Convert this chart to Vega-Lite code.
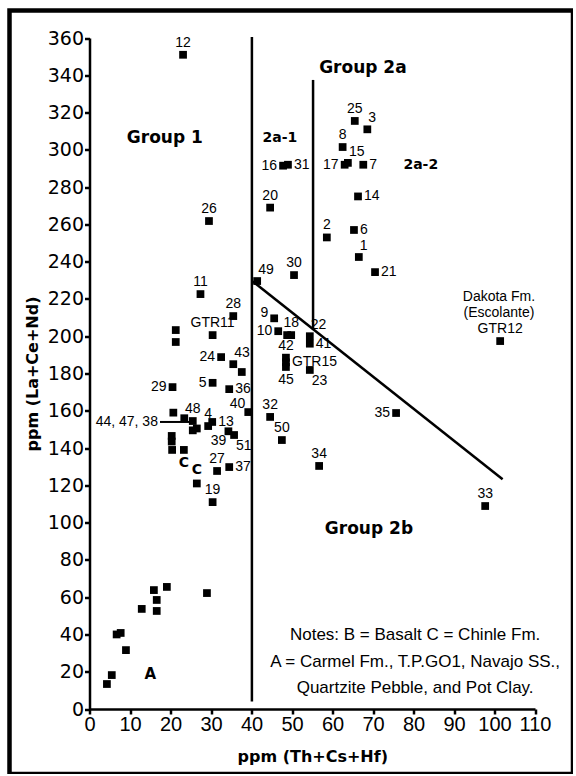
{
  "$schema": "https://vega.github.io/schema/vega-lite/v6.json",
  "width": 563.5,
  "height": 763.5,
  "autosize": {"type": "none"},
  "padding": {"left": 9.5, "top": 10.5, "right": 0, "bottom": 0},
  "background": "white",
  "config": {
    "view": {"stroke": "black", "strokeWidth": 4.5},
    "text": {"font": "Liberation Sans", "fontSize": 14, "color": "black"}
  },
  "datasets": {
    "points": [
      {"x": 23.1, "y": 351, "label": "12", "pos": "above"},
      {"x": 29.5, "y": 261.8, "label": "26", "pos": "above"},
      {"x": 44.6, "y": 269, "label": "20", "pos": "above"},
      {"x": 47.8, "y": 291.5, "label": "16", "pos": "left"},
      {"x": 49.0, "y": 292, "label": "31", "pos": "right"},
      {"x": 65.5, "y": 315.5, "label": "25", "pos": "above"},
      {"x": 68.6, "y": 311, "label": "3", "pos": "aboveright"},
      {"x": 62.5, "y": 301.5, "label": "8", "pos": "above"},
      {"x": 63.8, "y": 293, "label": "15", "pos": "aboveright"},
      {"x": 63.0, "y": 292, "label": "17", "pos": "left"},
      {"x": 67.6, "y": 292, "label": "7", "pos": "right"},
      {"x": 66.3, "y": 275, "label": "14", "pos": "right"},
      {"x": 58.6, "y": 253, "label": "2", "pos": "above"},
      {"x": 65.3, "y": 257, "label": "6", "pos": "right"},
      {"x": 66.5, "y": 242.5, "label": "1", "pos": "aboveright"},
      {"x": 70.5, "y": 234.4, "label": "21", "pos": "right"},
      {"x": 41.4, "y": 229.6, "label": "49", "pos": "aboveright"},
      {"x": 50.5, "y": 232.8, "label": "30", "pos": "above"},
      {"x": 101.4, "y": 197.4, "label": "GTR12", "pos": "above"},
      {"x": 45.6, "y": 209.6, "label": "9", "pos": "leftup"},
      {"x": 46.6, "y": 202.7, "label": "10", "pos": "left"},
      {"x": 48.8, "y": 200.6, "label": "", "pos": "none"},
      {"x": 49.8, "y": 200.6, "label": "18", "pos": "above"},
      {"x": 54.4, "y": 200, "label": "22", "pos": "aboveright"},
      {"x": 54.4, "y": 196, "label": "41", "pos": "right"},
      {"x": 48.5, "y": 188.5, "label": "42", "pos": "above"},
      {"x": 48.5, "y": 186, "label": "GTR15", "pos": "right"},
      {"x": 48.5, "y": 183.5, "label": "45", "pos": "below"},
      {"x": 54.4, "y": 181.9, "label": "23", "pos": "belowright"},
      {"x": 75.7, "y": 158.8, "label": "35", "pos": "left"},
      {"x": 44.6, "y": 156.7, "label": "32", "pos": "above"},
      {"x": 47.5, "y": 144.3, "label": "50", "pos": "above"},
      {"x": 56.7, "y": 130.4, "label": "34", "pos": "above"},
      {"x": 97.7, "y": 108.9, "label": "33", "pos": "above"},
      {"x": 27.4, "y": 222.6, "label": "11", "pos": "above"},
      {"x": 35.5, "y": 210.8, "label": "28", "pos": "above"},
      {"x": 30.4, "y": 200.6, "label": "GTR11", "pos": "above"},
      {"x": 21.3, "y": 203.3, "label": "", "pos": "none"},
      {"x": 21.3, "y": 196.9, "label": "", "pos": "none"},
      {"x": 32.5, "y": 188.8, "label": "24", "pos": "left"},
      {"x": 35.5, "y": 185, "label": "43", "pos": "aboveright"},
      {"x": 37.6, "y": 180.8, "label": "", "pos": "none"},
      {"x": 30.4, "y": 175, "label": "5", "pos": "left"},
      {"x": 34.5, "y": 171.6, "label": "36", "pos": "right"},
      {"x": 20.5, "y": 172.7, "label": "29", "pos": "left"},
      {"x": 39.2, "y": 159.3, "label": "40", "pos": "aboveleft"},
      {"x": 20.7, "y": 159, "label": "", "pos": "none"},
      {"x": 23.4, "y": 156, "label": "", "pos": "none"},
      {"x": 25.5, "y": 154.5, "label": "48", "pos": "above"},
      {"x": 25.5, "y": 149.5, "label": "", "pos": "none"},
      {"x": 26.5, "y": 150.5, "label": "", "pos": "none"},
      {"x": 29.3, "y": 151.8, "label": "4", "pos": "above"},
      {"x": 30.3, "y": 154, "label": "13", "pos": "right"},
      {"x": 34.3, "y": 149, "label": "39", "pos": "belowleft"},
      {"x": 35.7, "y": 147, "label": "51", "pos": "belowright"},
      {"x": 20.3, "y": 146.5, "label": "", "pos": "none"},
      {"x": 20.3, "y": 143.5, "label": "", "pos": "none"},
      {"x": 20.4, "y": 139, "label": "", "pos": "none"},
      {"x": 23.3, "y": 139, "label": "C", "pos": "Cbelow"},
      {"x": 26.5, "y": 121, "label": "C", "pos": "Cabove"},
      {"x": 31.5, "y": 127.7, "label": "27", "pos": "above"},
      {"x": 34.5, "y": 129.8, "label": "37", "pos": "right"},
      {"x": 30.4, "y": 111, "label": "19", "pos": "above"},
      {"x": 4.3, "y": 13.4, "label": "", "pos": "none"},
      {"x": 5.5, "y": 18.2, "label": "", "pos": "none"},
      {"x": 6.7, "y": 40, "label": "", "pos": "none"},
      {"x": 7.7, "y": 40.8, "label": "", "pos": "none"},
      {"x": 9.0, "y": 31.6, "label": "", "pos": "none"},
      {"x": 12.9, "y": 53.7, "label": "", "pos": "none"},
      {"x": 15.9, "y": 63.8, "label": "", "pos": "none"},
      {"x": 16.6, "y": 58.5, "label": "", "pos": "none"},
      {"x": 16.6, "y": 52.6, "label": "", "pos": "none"},
      {"x": 19.1, "y": 65.5, "label": "", "pos": "none"},
      {"x": 29.0, "y": 62.2, "label": "", "pos": "none"}
    ],
    "lines": [
      {"x": 40.1, "y": 4, "x2": 40.1, "y2": 360.5, "kind": "main"},
      {"x": 55.2, "y": 203.6, "x2": 55.2, "y2": 337.5, "kind": "main"},
      {"x": 40.3, "y": 229.4, "x2": 102, "y2": 123.3, "kind": "main"},
      {"x": 17.4, "y": 154, "x2": 24.8, "y2": 154, "kind": "leader"}
    ],
    "notes": [
      {"x": 18.6, "y": 306.3, "text": "Group 1", "kind": "group"},
      {"x": 67.5, "y": 343.9, "text": "Group 2a", "kind": "group"},
      {"x": 69.0, "y": 96.6, "text": "Group 2b", "kind": "group"},
      {"x": 47.0, "y": 306.3, "text": "2a-1", "kind": "sub"},
      {"x": 81.8, "y": 291.8, "text": "2a-2", "kind": "sub"},
      {"x": 80.4, "y": 39.7, "text": "Notes: B = Basalt  C = Chinle Fm.", "kind": "note"},
      {"x": 80.4, "y": 25.2, "text": "A = Carmel Fm., T.P.GO1, Navajo SS.,", "kind": "note"},
      {"x": 80.4, "y": 11.3, "text": "Quartzite Pebble, and Pot Clay.", "kind": "note"},
      {"x": 101.1, "y": 221, "text": "Dakota Fm.", "kind": "small"},
      {"x": 101.1, "y": 212.5, "text": "(Escolante)", "kind": "small"},
      {"x": 15, "y": 19, "text": "A", "kind": "letter"},
      {"x": 16.9, "y": 154, "text": "44, 47, 38", "kind": "leaderlabel"}
    ]
  },
  "encoding": {
    "x": {
      "field": "x", "type": "quantitative",
      "scale": {"domain": [0, 110], "range": [80, 525.5], "nice": false, "zero": false},
      "axis": {
        "orient": "bottom", "offset": -65,
        "values": [0, 10, 20, 30, 40, 50, 60, 70, 80, 90, 100, 110],
        "grid": false, "domainColor": "black", "domainWidth": 2.5,
        "tickColor": "black", "tickWidth": 2.5, "tickSize": 5,
        "labelFont": "Liberation Sans", "labelFontSize": 20, "labelColor": "black",
        "labelPadding": 0, "labelFlush": false, "labelOverlap": false,
        "title": "ppm (Th+Cs+Hf)", "titleFont": "DejaVu Sans", "titleFontSize": 16,
        "titleFontWeight": "bold", "titleColor": "black", "titlePadding": 14
      }
    },
    "y": {
      "field": "y", "type": "quantitative",
      "scale": {"domain": [0, 360], "range": [698.5, 27.5], "nice": false, "zero": false},
      "axis": {
        "orient": "left", "offset": -80,
        "values": [0, 20, 40, 60, 80, 100, 120, 140, 160, 180, 200, 220, 240, 260, 280, 300, 320, 340, 360],
        "grid": false, "domainColor": "black", "domainWidth": 2.5,
        "tickColor": "black", "tickWidth": 2.5, "tickSize": 5,
        "labelFont": "DejaVu Sans", "labelFontSize": 19, "labelColor": "black",
        "labelPadding": 1, "labelFlush": false, "labelOverlap": false,
        "title": "ppm (La+Ce+Nd)", "titleFont": "DejaVu Sans", "titleFontSize": 16,
        "titleFontWeight": "bold", "titleColor": "black", "titlePadding": 7
      }
    }
  },
  "layer": [
    {
      "data": {"name": "lines"},
      "transform": [{"filter": {"field": "kind", "equal": "main"}}],
      "mark": {"type": "rule", "color": "black", "strokeWidth": 2.5},
      "encoding": {"x2": {"field": "x2"}, "y2": {"field": "y2"}}
    },
    {
      "data": {"name": "lines"},
      "transform": [{"filter": {"field": "kind", "equal": "leader"}}],
      "mark": {"type": "rule", "color": "black", "strokeWidth": 2},
      "encoding": {"x2": {"field": "x2"}, "y2": {"field": "y2"}}
    },
    {
      "data": {"name": "points"},
      "mark": {"type": "square", "filled": true, "color": "black", "size": 60, "opacity": 1}
    },
    {
      "data": {"name": "points"},
      "transform": [{"filter": {"field": "pos", "equal": "above"}}],
      "mark": {"type": "text", "align": "center", "baseline": "middle", "dy": -12},
      "encoding": {"text": {"field": "label"}}
    },
    {
      "data": {"name": "points"},
      "transform": [{"filter": {"field": "pos", "equal": "below"}}],
      "mark": {"type": "text", "align": "center", "baseline": "middle", "dy": 13},
      "encoding": {"text": {"field": "label"}}
    },
    {
      "data": {"name": "points"},
      "transform": [{"filter": {"field": "pos", "equal": "left"}}],
      "mark": {"type": "text", "align": "right", "baseline": "middle", "dx": -6},
      "encoding": {"text": {"field": "label"}}
    },
    {
      "data": {"name": "points"},
      "transform": [{"filter": {"field": "pos", "equal": "leftup"}}],
      "mark": {"type": "text", "align": "right", "baseline": "middle", "dx": -6, "dy": -5},
      "encoding": {"text": {"field": "label"}}
    },
    {
      "data": {"name": "points"},
      "transform": [{"filter": {"field": "pos", "equal": "right"}}],
      "mark": {"type": "text", "align": "left", "baseline": "middle", "dx": 6},
      "encoding": {"text": {"field": "label"}}
    },
    {
      "data": {"name": "points"},
      "transform": [{"filter": {"field": "pos", "equal": "aboveright"}}],
      "mark": {"type": "text", "align": "left", "baseline": "middle", "dx": 1, "dy": -11},
      "encoding": {"text": {"field": "label"}}
    },
    {
      "data": {"name": "points"},
      "transform": [{"filter": {"field": "pos", "equal": "aboveleft"}}],
      "mark": {"type": "text", "align": "right", "baseline": "middle", "dx": -3, "dy": -8},
      "encoding": {"text": {"field": "label"}}
    },
    {
      "data": {"name": "points"},
      "transform": [{"filter": {"field": "pos", "equal": "belowright"}}],
      "mark": {"type": "text", "align": "left", "baseline": "middle", "dx": 2, "dy": 11},
      "encoding": {"text": {"field": "label"}}
    },
    {
      "data": {"name": "points"},
      "transform": [{"filter": {"field": "pos", "equal": "belowleft"}}],
      "mark": {"type": "text", "align": "right", "baseline": "middle", "dx": -2, "dy": 10},
      "encoding": {"text": {"field": "label"}}
    },
    {
      "data": {"name": "points"},
      "transform": [{"filter": {"field": "pos", "equal": "Cbelow"}}],
      "mark": {"type": "text", "align": "center", "baseline": "middle", "dy": 13, "font": "DejaVu Sans", "fontWeight": "bold", "fontSize": 14},
      "encoding": {"text": {"field": "label"}}
    },
    {
      "data": {"name": "points"},
      "transform": [{"filter": {"field": "pos", "equal": "Cabove"}}],
      "mark": {"type": "text", "align": "center", "baseline": "middle", "dy": -13, "font": "DejaVu Sans", "fontWeight": "bold", "fontSize": 14},
      "encoding": {"text": {"field": "label"}}
    },
    {
      "data": {"name": "notes"},
      "transform": [{"filter": {"field": "kind", "equal": "group"}}],
      "mark": {"type": "text", "align": "center", "baseline": "middle", "font": "DejaVu Sans", "fontWeight": "bold", "fontSize": 17},
      "encoding": {"text": {"field": "text"}}
    },
    {
      "data": {"name": "notes"},
      "transform": [{"filter": {"field": "kind", "equal": "sub"}}],
      "mark": {"type": "text", "align": "center", "baseline": "middle", "font": "DejaVu Sans", "fontWeight": "bold", "fontSize": 14},
      "encoding": {"text": {"field": "text"}}
    },
    {
      "data": {"name": "notes"},
      "transform": [{"filter": {"field": "kind", "equal": "note"}}],
      "mark": {"type": "text", "align": "center", "baseline": "middle", "fontSize": 17},
      "encoding": {"text": {"field": "text"}}
    },
    {
      "data": {"name": "notes"},
      "transform": [{"filter": {"field": "kind", "equal": "small"}}],
      "mark": {"type": "text", "align": "center", "baseline": "middle", "fontSize": 14},
      "encoding": {"text": {"field": "text"}}
    },
    {
      "data": {"name": "notes"},
      "transform": [{"filter": {"field": "kind", "equal": "letter"}}],
      "mark": {"type": "text", "align": "center", "baseline": "middle", "font": "DejaVu Sans", "fontWeight": "bold", "fontSize": 15},
      "encoding": {"text": {"field": "text"}}
    },
    {
      "data": {"name": "notes"},
      "transform": [{"filter": {"field": "kind", "equal": "leaderlabel"}}],
      "mark": {"type": "text", "align": "right", "baseline": "middle", "fontSize": 14},
      "encoding": {"text": {"field": "text"}}
    }
  ]
}
